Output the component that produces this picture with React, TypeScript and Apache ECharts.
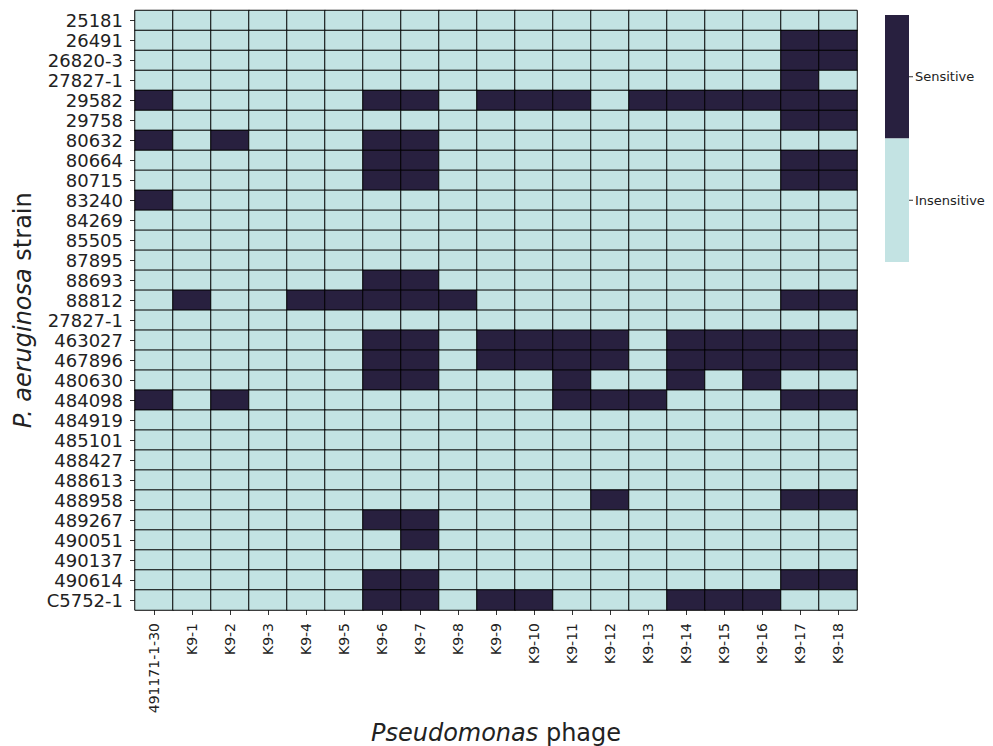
import React, { useEffect, useRef } from "react";
import * as echarts from "echarts";

// Phages tested (columns)
const phages = [
  "491171-1-30", "K9-1", "K9-2", "K9-3", "K9-4", "K9-5", "K9-6", "K9-7", "K9-8", "K9-9",
  "K9-10", "K9-11", "K9-12", "K9-13", "K9-14", "K9-15", "K9-16", "K9-17", "K9-18",
];

// P. aeruginosa strains (rows, top to bottom)
const strains = [
  "25181", "26491", "26820-3", "27827-1", "29582", "29758", "80632", "80664", "80715", "83240",
  "84269", "85505", "87895", "88693", "88812", "27827-1", "463027", "467896", "480630", "484098",
  "484919", "485101", "488427", "488613", "488958", "489267", "490051", "490137", "490614", "C5752-1",
];

// 1 = sensitive (lysed), 0 = insensitive; one row per strain, one column per phage
const sensitivity: number[][] = [
  [0, 0, 0, 0, 0, 0, 0, 0, 0, 0, 0, 0, 0, 0, 0, 0, 0, 0, 0],
  [0, 0, 0, 0, 0, 0, 0, 0, 0, 0, 0, 0, 0, 0, 0, 0, 0, 1, 1],
  [0, 0, 0, 0, 0, 0, 0, 0, 0, 0, 0, 0, 0, 0, 0, 0, 0, 1, 1],
  [0, 0, 0, 0, 0, 0, 0, 0, 0, 0, 0, 0, 0, 0, 0, 0, 0, 1, 0],
  [1, 0, 0, 0, 0, 0, 1, 1, 0, 1, 1, 1, 0, 1, 1, 1, 1, 1, 1],
  [0, 0, 0, 0, 0, 0, 0, 0, 0, 0, 0, 0, 0, 0, 0, 0, 0, 1, 1],
  [1, 0, 1, 0, 0, 0, 1, 1, 0, 0, 0, 0, 0, 0, 0, 0, 0, 0, 0],
  [0, 0, 0, 0, 0, 0, 1, 1, 0, 0, 0, 0, 0, 0, 0, 0, 0, 1, 1],
  [0, 0, 0, 0, 0, 0, 1, 1, 0, 0, 0, 0, 0, 0, 0, 0, 0, 1, 1],
  [1, 0, 0, 0, 0, 0, 0, 0, 0, 0, 0, 0, 0, 0, 0, 0, 0, 0, 0],
  [0, 0, 0, 0, 0, 0, 0, 0, 0, 0, 0, 0, 0, 0, 0, 0, 0, 0, 0],
  [0, 0, 0, 0, 0, 0, 0, 0, 0, 0, 0, 0, 0, 0, 0, 0, 0, 0, 0],
  [0, 0, 0, 0, 0, 0, 0, 0, 0, 0, 0, 0, 0, 0, 0, 0, 0, 0, 0],
  [0, 0, 0, 0, 0, 0, 1, 1, 0, 0, 0, 0, 0, 0, 0, 0, 0, 0, 0],
  [0, 1, 0, 0, 1, 1, 1, 1, 1, 0, 0, 0, 0, 0, 0, 0, 0, 1, 1],
  [0, 0, 0, 0, 0, 0, 0, 0, 0, 0, 0, 0, 0, 0, 0, 0, 0, 0, 0],
  [0, 0, 0, 0, 0, 0, 1, 1, 0, 1, 1, 1, 1, 0, 1, 1, 1, 1, 1],
  [0, 0, 0, 0, 0, 0, 1, 1, 0, 1, 1, 1, 1, 0, 1, 1, 1, 1, 1],
  [0, 0, 0, 0, 0, 0, 1, 1, 0, 0, 0, 1, 0, 0, 1, 0, 1, 0, 0],
  [1, 0, 1, 0, 0, 0, 0, 0, 0, 0, 0, 1, 1, 1, 0, 0, 0, 1, 1],
  [0, 0, 0, 0, 0, 0, 0, 0, 0, 0, 0, 0, 0, 0, 0, 0, 0, 0, 0],
  [0, 0, 0, 0, 0, 0, 0, 0, 0, 0, 0, 0, 0, 0, 0, 0, 0, 0, 0],
  [0, 0, 0, 0, 0, 0, 0, 0, 0, 0, 0, 0, 0, 0, 0, 0, 0, 0, 0],
  [0, 0, 0, 0, 0, 0, 0, 0, 0, 0, 0, 0, 0, 0, 0, 0, 0, 0, 0],
  [0, 0, 0, 0, 0, 0, 0, 0, 0, 0, 0, 0, 1, 0, 0, 0, 0, 1, 1],
  [0, 0, 0, 0, 0, 0, 1, 1, 0, 0, 0, 0, 0, 0, 0, 0, 0, 0, 0],
  [0, 0, 0, 0, 0, 0, 0, 1, 0, 0, 0, 0, 0, 0, 0, 0, 0, 0, 0],
  [0, 0, 0, 0, 0, 0, 0, 0, 0, 0, 0, 0, 0, 0, 0, 0, 0, 0, 0],
  [0, 0, 0, 0, 0, 0, 1, 1, 0, 0, 0, 0, 0, 0, 0, 0, 0, 1, 1],
  [0, 0, 0, 0, 0, 0, 1, 1, 0, 1, 1, 0, 0, 0, 1, 1, 1, 0, 0],
];

const legendLabels = ["Sensitive", "Insensitive"];

const DARK = "#28203f";
const LIGHT = "#c3e3e3";
const FONT = "DejaVu Sans";
const TEXT = "#222222";

export default function App() {
  const ref = useRef<HTMLDivElement>(null);

  useEffect(() => {
    if (!ref.current) return;
    const chart = echarts.init(ref.current, undefined, { renderer: "svg" });

    const cells: number[][] = [];
    sensitivity.forEach((row, y) => row.forEach((v, x) => cells.push([x, y, v])));

    // colour bar geometry
    const cbX = 885;
    const cbY = 15;
    const cbW = 24;
    const cbH = 247;

    chart.setOption({
      animation: false,
      backgroundColor: "#ffffff",
      textStyle: { fontFamily: FONT },
      grid: {
        left: 135,
        top: 10.5,
        width: 722,
        height: 599.5,
        containLabel: false,
        outerBoundsMode: "none",
      },
      xAxis: {
        type: "category",
        data: phages,
        axisLine: { show: false },
        axisTick: { show: true, alignWithLabel: true, length: 5, lineStyle: { color: "#333", width: 1 } },
        axisLabel: { rotate: 90, fontSize: 14, margin: 13, color: TEXT, fontFamily: FONT, interval: 0 },
        splitLine: { show: false },
        name: "{i|Pseudomonas} phage",
        nameLocation: "middle",
        nameGap: 108,
        nameTextStyle: {
          fontSize: 24,
          color: TEXT,
          fontFamily: FONT,
          rich: { i: { fontSize: 24, fontStyle: "italic", color: TEXT, fontFamily: FONT } },
        },
      },
      yAxis: {
        type: "category",
        data: strains,
        inverse: true,
        axisLine: { show: false },
        axisTick: { show: true, alignWithLabel: true, length: 5, lineStyle: { color: "#333", width: 1 } },
        axisLabel: { fontSize: 18, margin: 12, color: TEXT, fontFamily: FONT, interval: 0 },
        splitLine: { show: false },
        name: "{i|P. aeruginosa} strain",
        nameLocation: "middle",
        nameGap: 100,
        nameTextStyle: {
          fontSize: 24,
          color: TEXT,
          fontFamily: FONT,
          rich: { i: { fontSize: 24, fontStyle: "italic", color: TEXT, fontFamily: FONT } },
        },
      },
      visualMap: {
        type: "piecewise",
        show: false,
        dimension: 2,
        pieces: [
          { value: 1, color: DARK },
          { value: 0, color: LIGHT },
        ],
      },
      series: [
        {
          type: "heatmap",
          data: cells,
          itemStyle: { borderColor: "#000000", borderWidth: 1 },
          emphasis: { disabled: true },
        },
      ],
      graphic: [
        { type: "rect", shape: { x: cbX, y: cbY, width: cbW, height: cbH / 2 }, style: { fill: DARK } },
        { type: "rect", shape: { x: cbX, y: cbY + cbH / 2, width: cbW, height: cbH / 2 }, style: { fill: LIGHT } },
        {
          type: "line",
          shape: { x1: cbX + cbW, y1: cbY + cbH / 4, x2: cbX + cbW + 4, y2: cbY + cbH / 4 },
          style: { stroke: "#333", lineWidth: 1 },
        },
        {
          type: "line",
          shape: { x1: cbX + cbW, y1: cbY + (3 * cbH) / 4, x2: cbX + cbW + 4, y2: cbY + (3 * cbH) / 4 },
          style: { stroke: "#333", lineWidth: 1 },
        },
        {
          type: "text",
          x: cbX + cbW + 6,
          y: cbY + cbH / 4,
          style: { text: legendLabels[0], fontSize: 13, fontFamily: FONT, fill: TEXT, verticalAlign: "middle" },
        },
        {
          type: "text",
          x: cbX + cbW + 6,
          y: cbY + (3 * cbH) / 4,
          style: { text: legendLabels[1], fontSize: 13, fontFamily: FONT, fill: TEXT, verticalAlign: "middle" },
        },
      ],
    });

    return () => chart.dispose();
  }, []);

  return (
    <div
      ref={ref}
      style={{ position: "fixed", left: 0, top: 0, width: 993, height: 746 }}
    />
  );
}
